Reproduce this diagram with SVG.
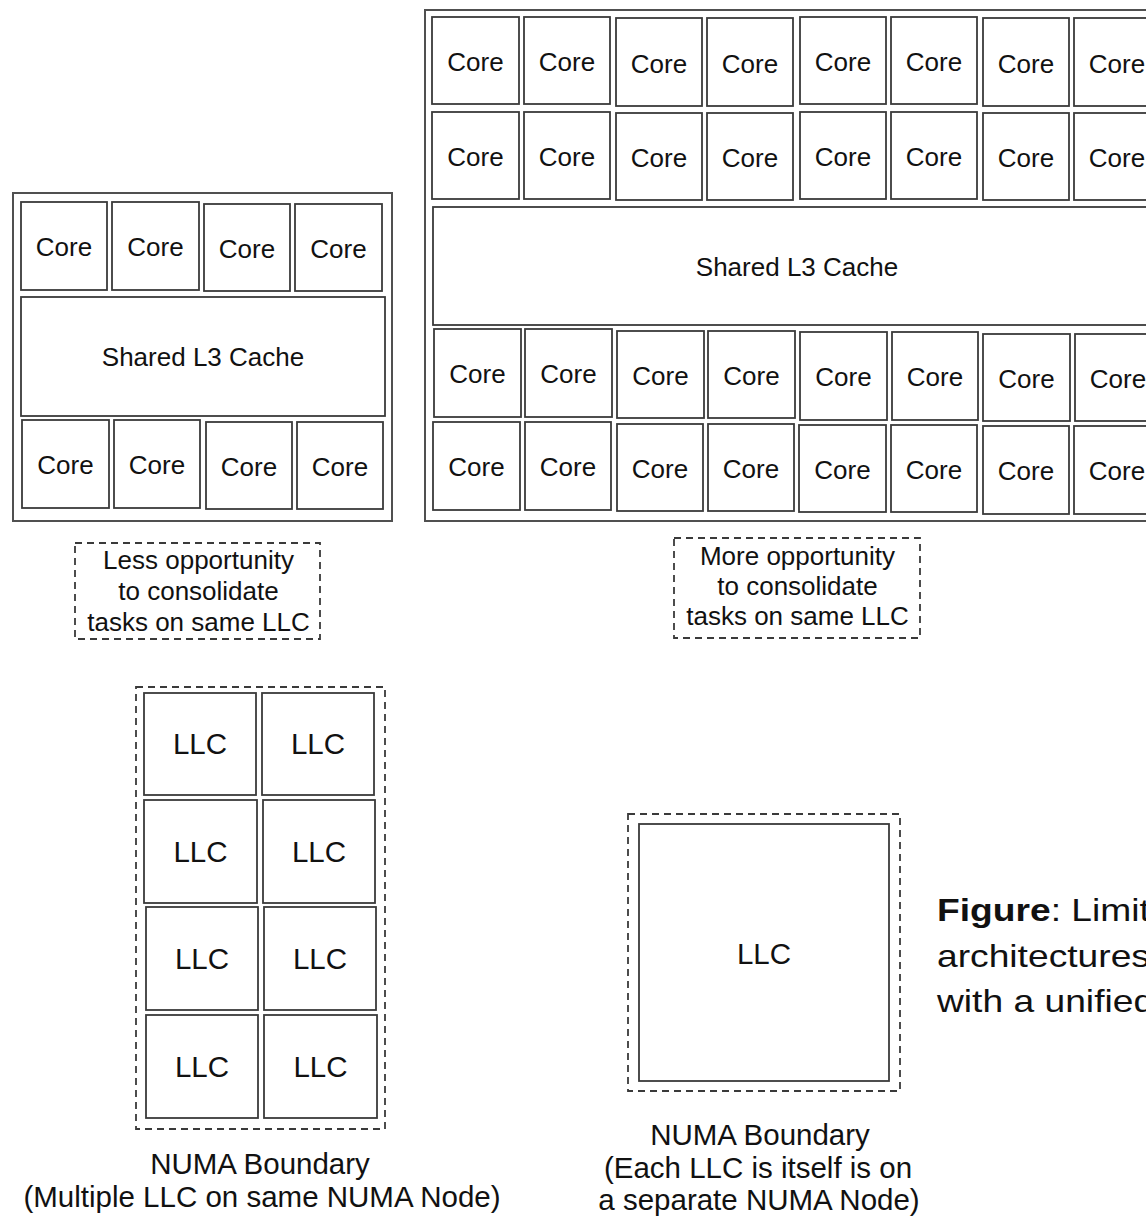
<svg xmlns="http://www.w3.org/2000/svg" width="1146" height="1218" viewBox="0 0 1146 1218">
<style>
  .box{fill:#fff;stroke:#3a3a3a;stroke-width:1.8}
  .outer{fill:#fff;stroke:#505050;stroke-width:2}
  .dash{fill:none;stroke:#3a3a3a;stroke-width:1.8;stroke-dasharray:7 5}
  text{font-family:"Liberation Sans",Arial,sans-serif;fill:#111;text-anchor:middle}
  .c{font-size:26px}
  .l{font-size:29.5px}
  .cap{font-size:29.5px}
  .fig{font-size:31px;text-anchor:start}
</style>
<rect width="1146" height="1218" fill="#fff"/>
<g id="chip-small">
  <rect class="outer" x="13" y="193" width="379" height="328"/>
  <g id="s-core-1"><rect class="box" x="21" y="202" width="86" height="88"/><text class="c" x="64" y="256">Core</text></g>
  <g id="s-core-2"><rect class="box" x="112" y="202" width="87" height="88"/><text class="c" x="155.5" y="256">Core</text></g>
  <g id="s-core-3"><rect class="box" x="204" y="204" width="86" height="87"/><text class="c" x="247" y="257.5">Core</text></g>
  <g id="s-core-4"><rect class="box" x="295" y="204" width="87" height="87"/><text class="c" x="338.5" y="257.5">Core</text></g>
  <g id="s-cache"><rect class="box" x="21" y="297" width="364" height="119"/><text class="c" x="203" y="366">Shared L3 Cache</text></g>
  <g id="s-core-5"><rect class="box" x="22" y="420" width="87" height="88"/><text class="c" x="65.5" y="474">Core</text></g>
  <g id="s-core-6"><rect class="box" x="114" y="420" width="86" height="88"/><text class="c" x="157" y="474">Core</text></g>
  <g id="s-core-7"><rect class="box" x="206" y="422" width="86" height="87"/><text class="c" x="249" y="475.5">Core</text></g>
  <g id="s-core-8"><rect class="box" x="297" y="422" width="86" height="87"/><text class="c" x="340" y="475.5">Core</text></g>
</g>
<g id="chip-large">
  <rect class="outer" x="425" y="10" width="760" height="511"/>
  <g id="l-row1">
    <g id="l-core-1"><rect class="box" x="432" y="17" width="87" height="87"/><text class="c" x="475.5" y="71">Core</text></g>
    <g id="l-core-2"><rect class="box" x="524" y="17" width="86" height="87"/><text class="c" x="567" y="71">Core</text></g>
    <g id="l-core-3"><rect class="box" x="616" y="18" width="86" height="88"/><text class="c" x="659" y="72.5">Core</text></g>
    <g id="l-core-4"><rect class="box" x="707" y="18" width="86" height="88"/><text class="c" x="750" y="72.5">Core</text></g>
    <g id="l-core-5"><rect class="box" x="800" y="17" width="86" height="87"/><text class="c" x="843" y="71">Core</text></g>
    <g id="l-core-6"><rect class="box" x="891" y="17" width="86" height="87"/><text class="c" x="934" y="71">Core</text></g>
    <g id="l-core-7"><rect class="box" x="983" y="18" width="86" height="88"/><text class="c" x="1026" y="72.5">Core</text></g>
    <g id="l-core-8"><rect class="box" x="1074" y="18" width="86" height="88"/><text class="c" x="1117" y="72.5">Core</text></g>
  </g>
  <g id="l-row2">
    <g id="l-core-9"><rect class="box" x="432" y="112" width="87" height="87"/><text class="c" x="475.5" y="165.5">Core</text></g>
    <g id="l-core-10"><rect class="box" x="524" y="112" width="86" height="87"/><text class="c" x="567" y="165.5">Core</text></g>
    <g id="l-core-11"><rect class="box" x="616" y="113" width="86" height="87"/><text class="c" x="659" y="166.5">Core</text></g>
    <g id="l-core-12"><rect class="box" x="707" y="113" width="86" height="87"/><text class="c" x="750" y="166.5">Core</text></g>
    <g id="l-core-13"><rect class="box" x="800" y="112" width="86" height="87"/><text class="c" x="843" y="165.5">Core</text></g>
    <g id="l-core-14"><rect class="box" x="891" y="112" width="86" height="87"/><text class="c" x="934" y="165.5">Core</text></g>
    <g id="l-core-15"><rect class="box" x="983" y="113" width="86" height="87"/><text class="c" x="1026" y="166.5">Core</text></g>
    <g id="l-core-16"><rect class="box" x="1074" y="113" width="86" height="87"/><text class="c" x="1117" y="166.5">Core</text></g>
  </g>
  <g id="l-cache"><rect class="box" x="433" y="207" width="728" height="118"/><text class="c" x="797" y="275.5">Shared L3 Cache</text></g>
  <g id="l-row3">
    <g id="l-core-17"><rect class="box" x="434" y="329" width="87" height="88"/><text class="c" x="477.5" y="383">Core</text></g>
    <g id="l-core-18"><rect class="box" x="525" y="329" width="87" height="88"/><text class="c" x="568.5" y="383">Core</text></g>
    <g id="l-core-19"><rect class="box" x="617" y="331" width="87" height="87"/><text class="c" x="660.5" y="384.5">Core</text></g>
    <g id="l-core-20"><rect class="box" x="708" y="331" width="87" height="87"/><text class="c" x="751.5" y="384.5">Core</text></g>
    <g id="l-core-21"><rect class="box" x="800" y="332" width="87" height="88"/><text class="c" x="843.5" y="386">Core</text></g>
    <g id="l-core-22"><rect class="box" x="892" y="332" width="86" height="88"/><text class="c" x="935" y="386">Core</text></g>
    <g id="l-core-23"><rect class="box" x="983" y="334" width="87" height="87"/><text class="c" x="1026.5" y="387.5">Core</text></g>
    <g id="l-core-24"><rect class="box" x="1075" y="334" width="86" height="87"/><text class="c" x="1118" y="387.5">Core</text></g>
  </g>
  <g id="l-row4">
    <g id="l-core-25"><rect class="box" x="433" y="422" width="87" height="88"/><text class="c" x="476.5" y="476">Core</text></g>
    <g id="l-core-26"><rect class="box" x="525" y="422" width="86" height="88"/><text class="c" x="568" y="476">Core</text></g>
    <g id="l-core-27"><rect class="box" x="617" y="424" width="86" height="87"/><text class="c" x="660" y="477.5">Core</text></g>
    <g id="l-core-28"><rect class="box" x="708" y="424" width="86" height="87"/><text class="c" x="751" y="477.5">Core</text></g>
    <g id="l-core-29"><rect class="box" x="799" y="425" width="87" height="87"/><text class="c" x="842.5" y="478.5">Core</text></g>
    <g id="l-core-30"><rect class="box" x="891" y="425" width="86" height="87"/><text class="c" x="934" y="478.5">Core</text></g>
    <g id="l-core-31"><rect class="box" x="983" y="426" width="86" height="88"/><text class="c" x="1026" y="480">Core</text></g>
    <g id="l-core-32"><rect class="box" x="1074" y="426" width="86" height="88"/><text class="c" x="1117" y="480">Core</text></g>
  </g>
</g>
<g id="note-less">
  <rect class="dash" x="75" y="543" width="245" height="96"/>
  <text class="c" x="198.5" y="569">Less opportunity</text>
  <text class="c" x="198.5" y="600">to consolidate</text>
  <text class="c" x="198.5" y="631">tasks on same LLC</text>
</g>
<g id="note-more">
  <rect class="dash" x="674" y="538" width="246" height="100"/>
  <text class="c" x="797.5" y="565">More opportunity</text>
  <text class="c" x="797.5" y="595">to consolidate</text>
  <text class="c" x="797.5" y="625">tasks on same LLC</text>
</g>
<g id="numa-multi">
  <rect class="dash" x="136" y="687" width="249" height="442"/>
  <g id="llc-1"><rect class="box" x="144" y="693" width="112" height="102"/><text class="l" x="200" y="754">LLC</text></g>
  <g id="llc-2"><rect class="box" x="262" y="693" width="112" height="102"/><text class="l" x="318" y="754">LLC</text></g>
  <g id="llc-3"><rect class="box" x="144" y="800" width="113" height="103"/><text class="l" x="200.5" y="861.5">LLC</text></g>
  <g id="llc-4"><rect class="box" x="263" y="800" width="112" height="103"/><text class="l" x="319" y="861.5">LLC</text></g>
  <g id="llc-5"><rect class="box" x="146" y="907" width="112" height="103"/><text class="l" x="202" y="968.5">LLC</text></g>
  <g id="llc-6"><rect class="box" x="264" y="907" width="112" height="103"/><text class="l" x="320" y="968.5">LLC</text></g>
  <g id="llc-7"><rect class="box" x="146" y="1015" width="112" height="103"/><text class="l" x="202" y="1076.5">LLC</text></g>
  <g id="llc-8"><rect class="box" x="264" y="1015" width="113" height="103"/><text class="l" x="320.5" y="1076.5">LLC</text></g>
  <text class="cap" x="260" y="1174">NUMA Boundary</text>
  <text class="cap" x="262" y="1207">(Multiple LLC on same NUMA Node)</text>
</g>
<g id="numa-single">
  <rect class="dash" x="628" y="814" width="272" height="277"/>
  <g id="llc-single"><rect class="box" x="639" y="824" width="250" height="257"/><text class="l" x="764" y="964">LLC</text></g>
  <text class="cap" x="760" y="1145">NUMA Boundary</text>
  <text class="cap" x="758" y="1178">(Each LLC is itself is on</text>
  <text class="cap" x="759" y="1210">a separate NUMA Node)</text>
</g>
<g id="caption" transform="translate(937,0) scale(1.2,1)">
  <text class="fig" x="0" y="921"><tspan font-weight="bold">Figure</tspan>: Limit</text>
  <text class="fig" x="0" y="967">architectures</text>
  <text class="fig" x="0" y="1012">with a unified</text>
</g>
<g id="connectors"></g>
</svg>
